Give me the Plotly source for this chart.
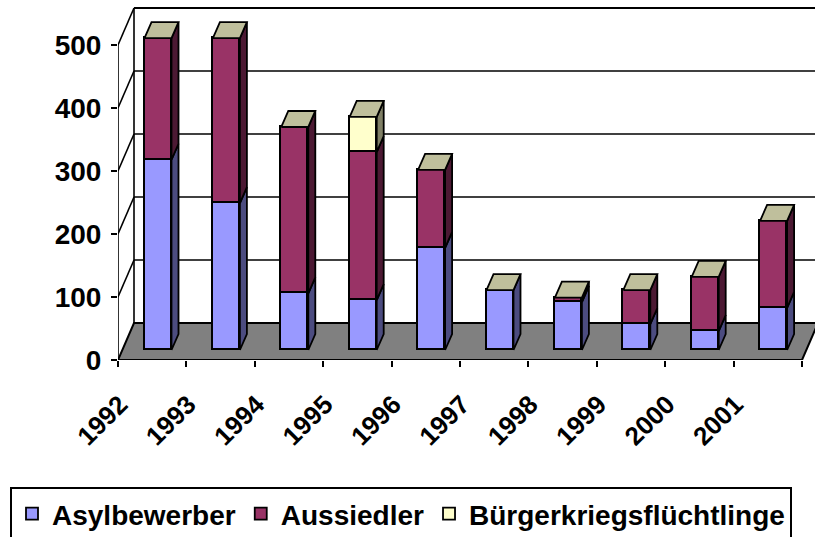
import plotly.graph_objects as go

# ---------------- data ----------------
years = ["1992", "1993", "1994", "1995", "1996", "1997", "1998", "1999", "2000", "2001"]
asylbewerber = [302, 233, 90, 79, 162, 95, 76, 41, 30, 67]
aussiedler = [193, 262, 264, 235, 124, 0, 7, 54, 86, 138]
buergerkriegsfluechtlinge = [0, 0, 0, 56, 0, 0, 0, 0, 0, 0]
y_ticks = [0, 100, 200, 300, 400, 500]

series = [
    ("Asylbewerber", asylbewerber, "#9999FF", "#4C4C80"),
    ("Aussiedler", aussiedler, "#993366", "#4C1933"),
    ("Bürgerkriegsflüchtlinge", buergerkriegsfluechtlinge, "#FFFFCC", "#808066"),
]
CAP_COLOR = "#BFBF9C"
FLOOR_COLOR = "#808080"

# ---------------- geometry (pixels -> axis units) ----------------
W, H = 815, 537
ML, MR, MT, MB = 118, 0, 5, 177
PW, PH = W - ML - MR, H - MT - MB
UNIT_PX = 0.63          # pixels per value unit
CAT_PX = 68.4           # pixels per category
BAR_LIFT_PX = 10        # bar bottom above front edge
FLOOR_DX_PX, FLOOR_DY_PX = 16, 37
BAR_DX_PX, BAR_DY_PX = 7, 16
BAR_OFF_PX, BAR_W_PX = 26.5, 27
LABEL_SHIFT_PX = 2
LEGEND_TOP_PX = 487

y_lo = -BAR_LIFT_PX / UNIT_PX
y_hi = (PH - BAR_LIFT_PX) / UNIT_PX
x_hi = PW / CAT_PX
y2_hi = PH / UNIT_PX

fdx = FLOOR_DX_PX / CAT_PX
fdy = FLOOR_DY_PX / UNIT_PX
bdx = BAR_DX_PX / CAT_PX
bdy = BAR_DY_PX / UNIT_PX
boff = BAR_OFF_PX / CAT_PX
bw = BAR_W_PX / CAT_PX
n = len(years)
back0 = y_lo + fdy     # floor back edge in bar units
max_tick = y_ticks[-1]

fig = go.Figure()

# front faces
centers = [k + boff + bw / 2 for k in range(n)]
for name, vals, col, _ in series:
    fig.add_trace(go.Bar(
        x=centers, y=[v if v else None for v in vals], width=bw, name=name,
        marker=dict(color=col, line=dict(color="black", width=1.8)),
        hoverinfo="skip",
    ))

# side faces
base = [0] * n
for name, vals, col, side in series:
    xs, ys = [], []
    for k in range(n):
        v = vals[k]
        if v:
            xr = k + boff + bw
            y0, y1 = base[k], base[k] + v
            xs += [xr, xr + bdx, xr + bdx, xr, xr, None]
            ys += [y0, y0 + bdy, y1 + bdy, y1, y0, None]
            base[k] += v
    fig.add_trace(go.Scatter(x=xs, y=ys, mode="lines", fill="toself", fillcolor=side,
                             line=dict(color="black", width=1.8), showlegend=False,
                             hoverinfo="skip"))

# top caps
xs, ys = [], []
for k in range(n):
    t = base[k]
    xl = k + boff
    xr = xl + bw
    xs += [xl, xl + bdx, xr + bdx, xr, xl, None]
    ys += [t, t + bdy, t + bdy, t, t, None]
fig.add_trace(go.Scatter(x=xs, y=ys, mode="lines", fill="toself", fillcolor=CAP_COLOR,
                         line=dict(color="black", width=1.8), showlegend=False,
                         hoverinfo="skip"))

# invisible trace so that the labelled front axes (x2 / y2) are drawn
fig.add_trace(go.Scatter(x=[None], y=[None], xaxis="x2", yaxis="y2", mode="markers",
                         showlegend=False, hoverinfo="skip"))

# ---------------- walls & floor (shapes below traces) ----------------
shapes = []
line = dict(color="black", width=1.6)
shapes.append(dict(type="path", xref="x", yref="y", layer="below",
                   path=f"M 0,{y_lo} L {n},{y_lo} L {n + fdx},{back0} L {fdx},{back0} Z",
                   fillcolor=FLOOR_COLOR, line=dict(color="black", width=2)))
for t in y_ticks[1:]:
    shapes.append(dict(type="line", xref="x", yref="y", layer="below",
                       x0=fdx, x1=n + fdx, y0=back0 + t, y1=back0 + t,
                       line=dict(color="black", width=2.2 if t == max_tick else 1.4)))
shapes.append(dict(type="line", xref="x", yref="y", layer="below",
                   x0=fdx, x1=fdx, y0=back0, y1=back0 + max_tick, line=line))
shapes.append(dict(type="line", xref="x", yref="y", layer="below",
                   x0=0, x1=0, y0=y_lo, y1=y_lo + max_tick, line=line))
for t in y_ticks[1:]:
    shapes.append(dict(type="line", xref="x", yref="y", layer="below",
                       x0=0, x1=fdx, y0=y_lo + t, y1=back0 + t, line=line))

font_b = dict(family="Liberation Sans, Arial, sans-serif", color="black", weight="bold")

fig.update_layout(
    width=W, height=H,
    margin=dict(l=ML, r=MR, t=MT, b=MB, pad=0, autoexpand=False),
    paper_bgcolor="white", plot_bgcolor="white",
    barmode="stack", bargap=0,
    shapes=shapes,
    showlegend=True,
    legend=dict(orientation="h", x=(10 - ML) / PW, xanchor="left",
                y=(PH - (LEGEND_TOP_PX - MT)) / PH, yanchor="top",
                bordercolor="black", borderwidth=2, bgcolor="white",
                font=dict(size=28, **font_b), traceorder="normal", itemwidth=30),
    xaxis=dict(range=[0, x_hi], tickvals=list(range(n + 1)), showticklabels=False,
               ticks="outside", ticklen=6, tickwidth=2, tickcolor="black",
               showgrid=False, zeroline=False, showline=False, fixedrange=True),
    xaxis2=dict(range=[0, x_hi], overlaying="x", anchor="y2", side="bottom",
                tickvals=[k + LABEL_SHIFT_PX / CAT_PX for k in range(n)], ticktext=years,
                tickangle=-45, ticks="", showgrid=False, zeroline=False, showline=False,
                tickfont=dict(size=26, **font_b), ticklabelstandoff=23),
    yaxis=dict(range=[y_lo, y_hi], showticklabels=False, ticks="", showgrid=False,
               zeroline=False, showline=False),
    yaxis2=dict(range=[0, y2_hi], overlaying="y", anchor="x2", side="left",
                tickvals=y_ticks, ticks="outside", ticklen=6, tickwidth=2, tickcolor="black",
                showgrid=False, zeroline=False, showline=False,
                tickfont=dict(size=28, **font_b), ticklabelstandoff=4),
)

fig.write_html("out.html", config={"displayModeBar": False},
               post_script="document.body.style.margin='0';document.body.style.overflow='hidden';")
